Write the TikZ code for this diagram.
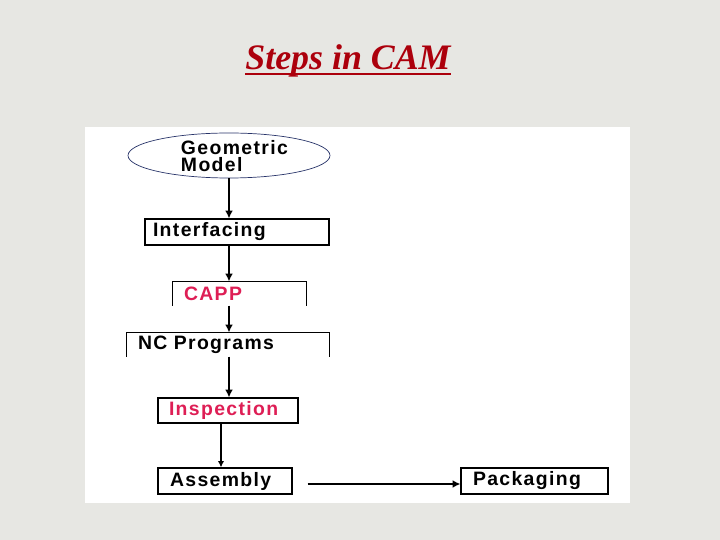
\documentclass[tikz,border=0pt]{standalone}
\usepackage{fontspec}
\setmainfont{Liberation Serif}
\newfontfamily\boxfont[LetterSpace=7]{Liberation Sans}
\usetikzlibrary{shapes,arrows.meta}
\definecolor{slidebg}{RGB}{231,231,227}
\definecolor{titlered}{RGB}{172,0,12}
\definecolor{stepred}{RGB}{222,30,85}
\definecolor{ellblue}{RGB}{40,52,105}
\tikzstyle{block} = [rectangle, draw, line width=0.8pt, inner ysep=0pt,
    font=\boxfont\bfseries\fontsize{13.8}{15}\selectfont, align=left]
\tikzstyle{openblock} = [block, draw=none]
\tikzstyle{line} = [draw, line width=2pt, -{Latex[length=5.5pt,width=5.5pt]}]
\tikzstyle{thinline} = [draw, line width=1pt, -{Latex[length=4.5pt,width=4.5pt]}]

\begin{document}
\begin{tikzpicture}
	% slide background and white panel
	\fill[slidebg] (0,0) rectangle (18,13.5);
	\useasboundingbox (0,0) rectangle (18,13.5);
	\fill[white] (2.125,0.925) rectangle (15.75,10.325);

	\node[text=titlered, inner sep=0pt, font=\bfseries\itshape\fontsize{25.5}{30}\selectfont] (title) at (8.7,11.98) {Steps in CAM};
	\draw[titlered, line width=1.6pt] ([yshift=-3pt]title.base west) -- ([yshift=-3pt]title.base east);

	\node [ellipse, draw=ellblue, line width=0.5pt, minimum width=5.05cm, minimum height=1.125cm, inner sep=0pt] (geo) at (5.725,9.6125) {};
	\node [openblock, align=left, font=\boxfont\bfseries\fontsize{13.8}{12.6}\selectfont] (geotext) at (5.86,9.6) {Geometric\\Model};

	\node [block, inner xsep=0.2cm, text width=4.2cm, minimum height=0.65cm] (iface) at (5.925,7.7) {Interfacing};
	\node [openblock, text=stepred, inner xsep=0.275cm, text width=2.775cm, minimum height=0.575cm] (capp) at (5.9875,6.1625) {CAPP};
	\node [openblock, inner xsep=0.275cm, text width=4.5cm, minimum height=0.575cm] (nc) at (5.7,4.8875) {NC Programs};
	\node [block, text=stepred, inner xsep=0.275cm, text width=2.95cm, minimum height=0.625cm] (insp) at (5.7,3.2375) {Inspection};
	\node [block, inner xsep=0.3cm, text width=2.75cm, minimum height=0.65cm] (asm) at (5.625,1.475) {Assembly};
	\node [block, inner xsep=0.3cm, text width=3.075cm, minimum height=0.65cm] (pack) at (13.3625,1.475) {Packaging};

	% boxes without a bottom edge
	\draw[line width=0.8pt] (capp.south west) -- (capp.north west) -- (capp.north east) -- (capp.south east);
	\draw[line width=0.8pt] (nc.south west) -- (nc.north west) -- (nc.north east) -- (nc.south east);

	\path [line] (geo.south) -- (geo.south |- iface.north);
	\path [line] (geo.south |- iface.south) -- (geo.south |- capp.north);
	\path [line] (geo.south |- capp.south) -- (geo.south |- nc.north);
	\path [line] (geo.south |- nc.south) -- (geo.south |- insp.north);
	\path [thinline] ([xshift=-0.175cm]insp.south) -- ([xshift=-0.175cm]insp.south |- asm.north);
	\path [line, shorten <=0.375cm] ([yshift=-0.075cm]asm.east) -- ([yshift=-0.075cm]pack.west);
\end{tikzpicture}
\end{document}
